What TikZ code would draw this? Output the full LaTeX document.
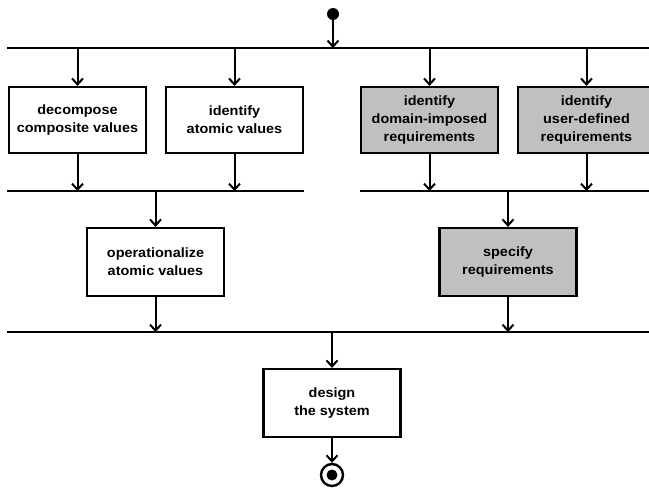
\documentclass[tikz,border=0pt]{standalone}
\usepackage{fontspec}
\setmainfont{Liberation Sans}[FakeStretch=1.07]
\usetikzlibrary{arrows.meta}
\definecolor{boxgray}{RGB}{192,192,192}
\begin{document}
\begin{tikzpicture}[x=1pt,y=-1pt,
  box/.style={draw, line width=2.2pt, minimum width=137pt, minimum height=66pt, align=center, inner sep=0pt, font=\bfseries\fontsize{13.5}{18}\selectfont},
  gbox/.style={box, fill=boxgray},
  bar/.style={line width=2.6pt},
  arr/.style={line width=2pt, -{Straight Barb[length=6pt,width=11pt,line width=2pt]}}]
\useasboundingbox (0,0) rectangle (649,488);
\clip (0,0) rectangle (649,488);
% bars
\coordinate (b1l) at (7,48);   \coordinate (b1r) at (660,48);
\coordinate (b2al) at (7,191); \coordinate (b2ar) at (304,191);
\coordinate (b2bl) at (360,191); \coordinate (b2br) at (660,191);
\coordinate (b3l) at (7,332);  \coordinate (b3r) at (660,332);
\draw[bar] (b1l) -- (b1r);
\draw[bar] (b2al) -- (b2ar);
\draw[bar] (b2bl) -- (b2br);
\draw[bar] (b3l) -- (b3r);
% nodes
\node[circle, fill, inner sep=0pt, minimum size=12pt] (start) at (333,14) {};
\node[box]  (dec) at (77.5,120) {decompose\\composite values};
\node[box]  (ida) at (234.5,120) {identify\\atomic values};
\node[gbox] (idd) at (429.5,120) {identify\\domain-imposed\\requirements};
\node[gbox] (idu) at (586.5,120) {identify\\user-defined\\requirements};
\node[box, minimum height=68pt]  (op) at (155.5,262) {operationalize\\atomic values};
\node[gbox, minimum height=68pt] (sp) at (508,262) {specify\\requirements};
\node[box, minimum height=68pt]  (ds) at (332,403) {design\\the system};
\node[circle, draw, line width=2.4pt, inner sep=0pt, minimum size=22pt] (end) at (332,475) {};
\node[circle, fill, inner sep=0pt, minimum size=11pt] (endin) at (end.center) {};
% connectors
\coordinate (s1) at (333,48);
\draw[arr] (start) -- (s1);
\foreach \n in {dec,ida,idd,idu}{
  \path (\n.north) ++(0,-38) coordinate (\n-in);
  \path (\n.south) ++(0,37) coordinate (\n-out);
  \draw[arr] (\n-in) -- (\n.north);
  \draw[arr] (\n.south) -- (\n-out);
}
\foreach \n in {op,sp}{
  \path (\n.north) ++(0,-36) coordinate (\n-in);
  \path (\n.south) ++(0,35) coordinate (\n-out);
  \draw[arr] (\n-in) -- (\n.north);
  \draw[arr] (\n.south) -- (\n-out);
}
\path (ds.north) ++(0,-36) coordinate (ds-in);
\draw[arr] (ds-in) -- (ds.north);
\draw[arr] (ds.south) -- (end.north);
\end{tikzpicture}
\end{document}
